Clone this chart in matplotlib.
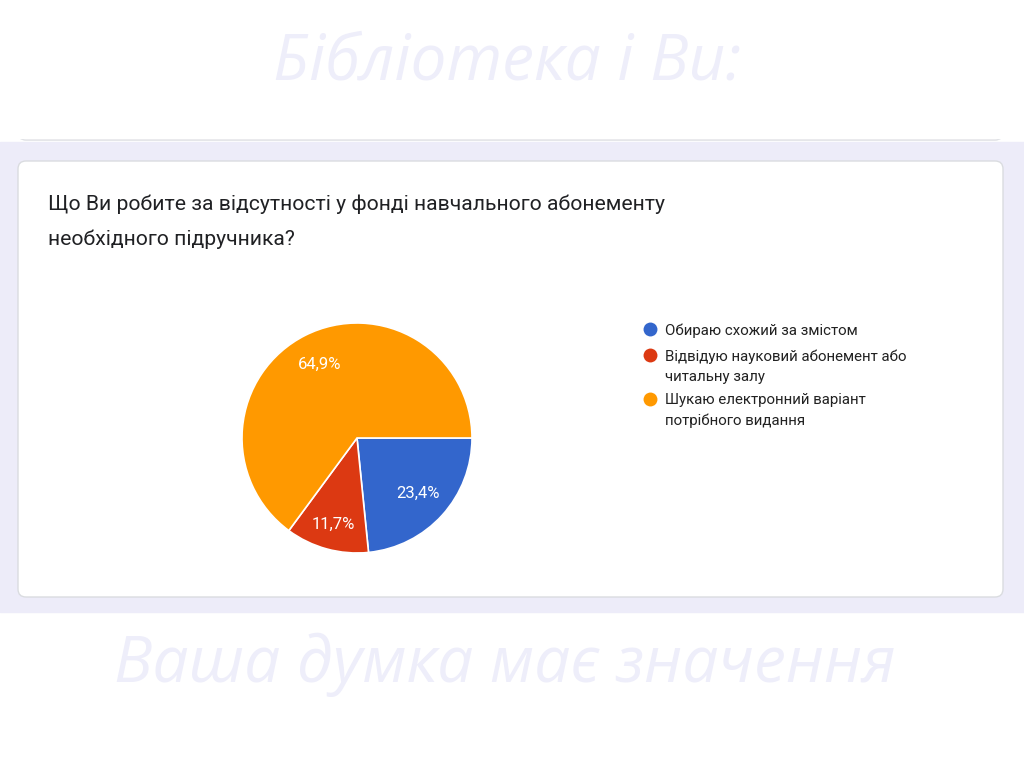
import numpy as np
import matplotlib.pyplot as plt
from matplotlib.patches import FancyBboxPatch, Rectangle

header = "Бібліотека і Ви:"
footer = "Ваша думка має значення"
question = "Що Ви робите за відсутності у фонді навчального абонементу\nнеобхідного підручника?"
labels = [
    "Обираю схожий за змістом",
    "Відвідую науковий абонемент або\nчитальну залу",
    "Шукаю електронний варіант\nпотрібного видання",
]
shares = [23.4, 11.7, 64.9]
colors = ["#3366CC", "#DC3912", "#FF9900"]

plt.rcParams["font.family"] = ["Roboto", "DejaVu Sans"]

fig = plt.figure(figsize=(10.24, 7.68), dpi=100)
bg = fig.add_axes([0, 0, 1, 1])
bg.set_xlim(0, 1024)
bg.set_ylim(768, 0)
bg.axis("off")

# lavender band with cards
bg.add_patch(Rectangle((0, 142), 1024, 470, color="#EDECF9", zorder=0))
bg.add_patch(FancyBboxPatch((18, -60), 985, 200, boxstyle="round,pad=0,rounding_size=8",
                            facecolor="white", edgecolor="#DADCE0", linewidth=1, zorder=1))
bg.add_patch(Rectangle((0, 0), 1024, 138, color="white", zorder=1.5))
bg.add_patch(FancyBboxPatch((18, 161), 985, 436, boxstyle="round,pad=0,rounding_size=8",
                            facecolor="white", edgecolor="#DADCE0", linewidth=1, zorder=1))

bg.text(507, 62, header, fontsize=46, fontstyle="italic", family=["Open Sans", "DejaVu Sans"],
        color="#EEEEFA", ha="center", va="center", zorder=2)
bg.text(505, 665, footer, fontsize=46, fontstyle="italic", family=["Open Sans", "DejaVu Sans"],
        color="#EEEEFA", ha="center", va="center", zorder=2)

bg.text(48, 222, question, fontsize=15.2, color="#202124", ha="left", va="center",
        linespacing=2.0, zorder=2)

# legend
y = 329
for lab, col in zip(labels, colors):
    n = lab.count("\n") + 1
    bg.scatter([650], [y], s=100, color=col, linewidths=0, zorder=3)
    bg.text(665, y - 6, lab, fontsize=10.8, color="#222222", ha="left", va="top",
            linespacing=1.55, zorder=3)
    y += 26 + 18 * (n - 1)

# pie
ax = fig.add_axes([242 / 1024, (768 - 553) / 768, 230 / 1024, 230 / 768])
wedges, texts, autotexts = ax.pie(
    shares, colors=colors, startangle=0, counterclock=False,
    autopct=lambda p: f"{p:.1f}%".replace(".", ","), pctdistance=0.72,
    wedgeprops=dict(edgecolor="white", linewidth=1.2),
    textprops=dict(color="white", fontsize=12),
)
for w, t, d in zip(wedges, autotexts, [0.72, 0.78, 0.72]):
    ang = np.deg2rad((w.theta1 + w.theta2) / 2)
    t.set_position((d * np.cos(ang), d * np.sin(ang)))
ax.set_xlim(-1, 1)
ax.set_ylim(-1, 1)
ax.set_aspect("equal")

fig.savefig("out.png", dpi=100)
